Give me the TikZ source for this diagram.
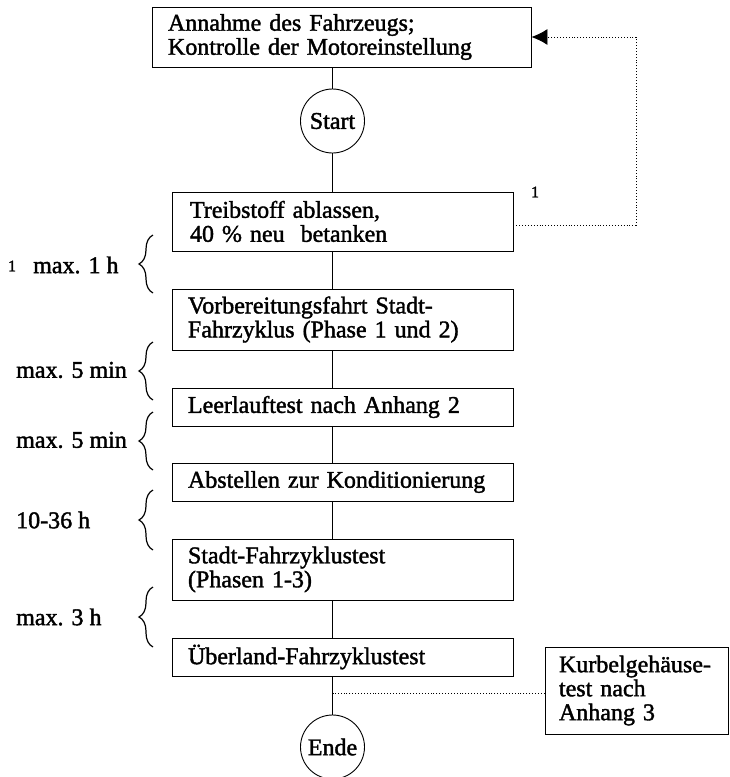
\documentclass[tikz,border=0pt]{standalone}
\usepackage{fontspec}
\setmainfont[FakeBold=1.6,AutoFakeBold=1.6]{Liberation Serif}
\usetikzlibrary{arrows.meta,decorations.pathreplacing}
\begin{document}
\begin{tikzpicture}[x=1pt,y=-1pt,
  txt/.style={font=\fontsize{24}{24}\selectfont\bfseries},
  box/.style={txt,draw,line width=0.9pt,rectangle,inner xsep=16pt,inner ysep=0pt,align=left},
  circ/.style={txt,draw,circle,line width=0.9pt,minimum size=64pt,inner sep=0pt},
  lab/.style={txt,anchor=west,inner sep=0pt},
  small/.style={font=\fontsize{16}{16}\selectfont\bfseries,inner sep=0pt},
  conn/.style={line width=0.9pt},
  fb/.style={dotted,line width=0.9pt},
  brc/.style={decorate,decoration={brace,amplitude=14pt},line width=1.2pt}]
\useasboundingbox (0,0) rectangle (729,777);

\node[box,text width=347pt,minimum height=60pt] (b1) at (341.5,37) {Annahme des Fahrzeugs;\\Kontrolle der Motoreinstellung};
\node[circ] (start) at (332.5,121) {Start};
\node[box,text width=309pt,minimum height=59pt] (b2) at (342.5,221.5) {\hspace*{2pt}Treibstoff ablassen,\\\hspace*{2pt}40 \% neu\ \ betanken};
\node[box,text width=309pt,minimum height=61pt] (b3) at (342.5,319.5) {Vorbereitungsfahrt Stadt-\\Fahrzyklus (Phase 1 und 2)};
\node[box,text width=309pt,minimum height=38pt] (b4) at (342.5,407) {Leerlauftest nach Anhang 2};
\node[box,text width=309pt,minimum height=38pt] (b5) at (342.5,482) {Abstellen zur Konditionierung};
\node[box,text width=309pt,minimum height=61pt] (b6) at (342.5,569.5) {Stadt-Fahrzyklustest\\(Phasen 1-3)};
\node[box,text width=309pt,minimum height=38pt] (b7) at (342.5,657) {Überland-Fahrzyklustest};
\node[box,inner xsep=14pt,text width=155pt,minimum height=87pt] (b8) at (636.5,690.5) {Kurbelgehäuse-\\test nach\\Anhang 3};
\node[circ] (ende) at (332.5,747) {Ende};

% vertical connectors
\draw[conn] (start.north) -- (start.north |- b1.south);
\draw[conn] (start.south) -- (start.south |- b2.north);
\draw[conn] (b2.south -| start) -- (b3.north -| start);
\draw[conn] (b3.south -| start) -- (b4.north -| start);
\draw[conn] (b4.south -| start) -- (b5.north -| start);
\draw[conn] (b5.south -| start) -- (b6.north -| start);
\draw[conn] (b6.south -| start) -- (b7.north -| start);
\draw[conn] (b7.south -| ende) -- (ende.north);

% dotted connectors
\coordinate (fbc) at (636,225);
\draw[fb,-{Latex[length=16pt,width=16pt]}] (b2.east |- fbc) -- (fbc) |- (b1.east);
\coordinate (kc) at (332.5,693);
\draw[fb] (b8.west |- kc) -- (kc);

% footnote marks
\node[small] (m1) at (535,192) {1};
\node[small] (m2) at (12,266) {1};

% braces and durations
\draw[brc] (153,293) -- (153,235);
\node[lab] (l1) at (33,265) {max. 1 h};
\draw[brc] (153,400) -- (153,342);
\node[lab] (l2) at (16,370) {max. 5 min};
\draw[brc] (153,470) -- (153,412);
\node[lab] (l3) at (16,440) {max. 5 min};
\draw[brc] (153,550) -- (153,490);
\node[lab] (l4) at (16,520) {10-36 h};
\draw[brc] (153,647) -- (153,587);
\node[lab] (l5) at (16,617) {max. 3 h};
\end{tikzpicture}
\end{document}
